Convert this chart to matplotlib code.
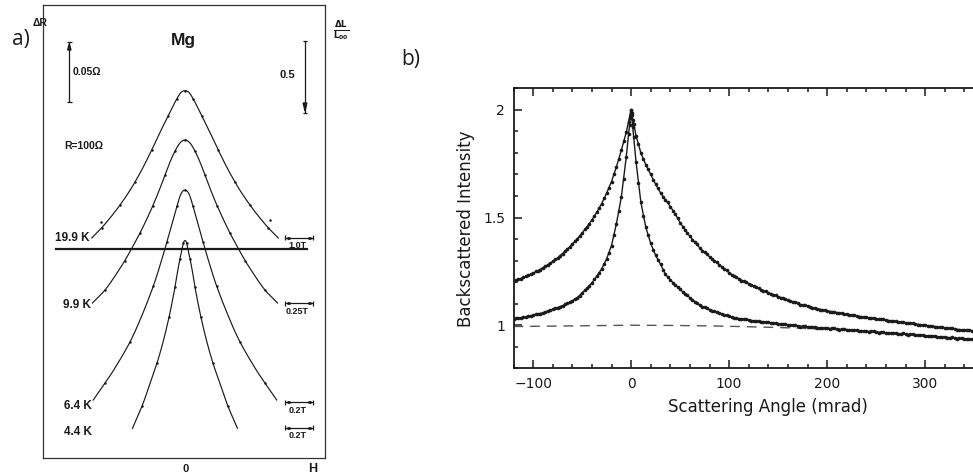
import numpy as np
import matplotlib.pyplot as plt
from matplotlib.lines import Line2D
from matplotlib.ticker import MultipleLocator, FuncFormatter

# ---------------------------------------------------------------------------
# Panel a) : Mg magnetoresistance peaks (arbitrary units)
# h = normalised field, v = signal in chart units
# ---------------------------------------------------------------------------
mg_labels = ["19.9 K", "9.9 K", "6.4 K", "4.4 K"]
field_scales = ["1.0T", "0.25T", "0.2T", "0.2T"]

h_199 = [-0.666, -0.593, -0.524, -0.464, -0.405, -0.357, -0.298, -0.236, -0.179, -0.119,
         -0.089, -0.059, -0.029, 0.0, 0.029, 0.059, 0.089, 0.119, 0.179, 0.236,
         0.298, 0.357, 0.405, 0.464, 0.524, 0.593, 0.666]
v_199 = [4.853, 5.085, 5.339, 5.582, 5.847, 6.090, 6.421, 6.808, 7.184, 7.559,
         7.747, 7.924, 8.067, 8.107, 8.067, 7.924, 7.747, 7.559, 7.184, 6.808,
         6.421, 6.090, 5.847, 5.582, 5.339, 5.085, 4.853]
h_199_extra = [-0.598, 0.607]
v_199_extra = [5.21, 5.24]

h_99 = [-0.661, -0.571, -0.5, -0.429, -0.371, -0.321, -0.271, -0.229, -0.186, -0.143,
        -0.107, -0.071, -0.036, 0.0, 0.036, 0.071, 0.107, 0.143, 0.186, 0.229,
        0.271, 0.321, 0.371, 0.429, 0.5, 0.571, 0.661]
v_99 = [3.418, 3.705, 4.014, 4.356, 4.677, 4.964, 5.284, 5.571, 5.892, 6.245,
        6.532, 6.775, 6.951, 7.018, 6.951, 6.775, 6.532, 6.245, 5.892, 5.571,
        5.284, 4.964, 4.677, 4.356, 4.014, 3.705, 3.418]

h_64 = [-0.655, -0.571, -0.5, -0.393, -0.309, -0.226, -0.171, -0.129, -0.086, -0.057,
        -0.029, 0.0, 0.029, 0.057, 0.086, 0.129, 0.171, 0.226, 0.309, 0.393,
        0.5, 0.571, 0.655]
v_64 = [1.275, 1.650, 1.982, 2.556, 3.131, 3.793, 4.323, 4.765, 5.240, 5.560,
        5.825, 5.913, 5.825, 5.560, 5.240, 4.765, 4.323, 3.793, 3.131, 2.556,
        1.982, 1.650, 1.275]

h_44 = [-0.375, -0.307, -0.244, -0.2, -0.155, -0.114, -0.089, -0.071, -0.054, -0.036,
        -0.021, -0.011, 0.0, 0.011, 0.021, 0.036, 0.054, 0.071, 0.089, 0.114,
        0.155, 0.2, 0.244, 0.307, 0.375]
v_44 = [0.649, 1.137, 1.690, 2.087, 2.573, 3.103, 3.479, 3.777, 4.097, 4.395,
        4.605, 4.749, 4.798, 4.749, 4.605, 4.395, 4.097, 3.777, 3.479, 3.103,
        2.573, 2.087, 1.690, 1.137, 0.649]

baseline_level = 4.60

# ---------------------------------------------------------------------------
# Panel b) : coherent backscattering cones
# ---------------------------------------------------------------------------
fit_angle = np.arange(-120, 351, 5)
broad_fit = [1.205, 1.213, 1.222, 1.232, 1.242, 1.254, 1.267, 1.281, 1.296, 1.313,
             1.333, 1.354, 1.377, 1.401, 1.428, 1.457, 1.489, 1.525, 1.565, 1.613,
             1.667, 1.735, 1.812, 1.895, 2.000, 1.880, 1.800, 1.745, 1.700, 1.655,
             1.615, 1.583, 1.551, 1.517, 1.476, 1.443, 1.413, 1.385, 1.360, 1.338,
             1.318, 1.300, 1.281, 1.262, 1.244, 1.229, 1.216, 1.204, 1.193, 1.182,
             1.171, 1.161, 1.151, 1.142, 1.133, 1.125, 1.117, 1.109, 1.101, 1.094,
             1.088, 1.082, 1.077, 1.072, 1.067, 1.063, 1.059, 1.055, 1.051, 1.047,
             1.043, 1.040, 1.036, 1.033, 1.030, 1.027, 1.024, 1.021, 1.018, 1.015,
             1.012, 1.009, 1.006, 1.003, 1.000, 0.997, 0.994, 0.991, 0.988, 0.985,
             0.982, 0.980, 0.978, 0.976, 0.974]
narrow_fit = [1.030, 1.033, 1.037, 1.041, 1.046, 1.052, 1.058, 1.066, 1.074, 1.082,
              1.091, 1.102, 1.114, 1.128, 1.150, 1.172, 1.197, 1.227, 1.262, 1.308,
              1.370, 1.471, 1.594, 1.779, 2.000, 1.760, 1.570, 1.455, 1.380, 1.325,
              1.283, 1.237, 1.210, 1.188, 1.166, 1.146, 1.128, 1.110, 1.093, 1.083,
              1.073, 1.065, 1.057, 1.049, 1.041, 1.035, 1.031, 1.027, 1.024, 1.021,
              1.018, 1.016, 1.013, 1.010, 1.007, 1.004, 1.002, 0.999, 0.997, 0.995,
              0.993, 0.991, 0.989, 0.988, 0.986, 0.985, 0.983, 0.981, 0.980, 0.978,
              0.976, 0.974, 0.972, 0.971, 0.969, 0.967, 0.966, 0.964, 0.962, 0.961,
              0.959, 0.957, 0.955, 0.954, 0.952, 0.950, 0.948, 0.946, 0.944, 0.943,
              0.941, 0.939, 0.937, 0.935, 0.934]

meas_angle = np.arange(-117.5, 350, 5)
broad_meas = [1.212, 1.214, 1.229, 1.236, 1.250, 1.258, 1.276, 1.287, 1.306, 1.321,
              1.345, 1.362, 1.391, 1.412, 1.445, 1.470, 1.509, 1.542, 1.590, 1.638,
              1.703, 1.770, 1.856, 1.945, 1.935, 1.842, 1.770, 1.726, 1.674, 1.637,
              1.597, 1.570, 1.531, 1.498, 1.458, 1.430, 1.397, 1.375, 1.346, 1.331,
              1.307, 1.293, 1.270, 1.256, 1.233, 1.223, 1.207, 1.200, 1.186, 1.178,
              1.164, 1.158, 1.145, 1.140, 1.126, 1.123, 1.111, 1.107, 1.095, 1.093,
              1.083, 1.081, 1.072, 1.071, 1.063, 1.062, 1.055, 1.054, 1.047, 1.046,
              1.040, 1.039, 1.033, 1.033, 1.027, 1.027, 1.021, 1.021, 1.015, 1.015,
              1.009, 1.009, 1.003, 1.003, 0.997, 0.997, 0.991, 0.991, 0.985, 0.985,
              0.980, 0.979, 0.976, 0.975]
narrow_meas = [1.033, 1.034, 1.040, 1.043, 1.050, 1.054, 1.063, 1.069, 1.079, 1.085,
               1.098, 1.106, 1.122, 1.137, 1.162, 1.183, 1.213, 1.243, 1.286, 1.336,
               1.418, 1.530, 1.680, 1.890, 1.875, 1.660, 1.508, 1.418, 1.350, 1.305,
               1.258, 1.226, 1.197, 1.179, 1.154, 1.139, 1.117, 1.103, 1.086, 1.080,
               1.067, 1.063, 1.051, 1.047, 1.036, 1.035, 1.027, 1.027, 1.021, 1.021,
               1.015, 1.016, 1.010, 1.010, 1.004, 1.005, 0.999, 1.000, 0.994, 0.996,
               0.990, 0.992, 0.987, 0.989, 0.984, 0.986, 0.980, 0.983, 0.977, 0.979,
               0.973, 0.975, 0.970, 0.972, 0.966, 0.969, 0.963, 0.965, 0.960, 0.962,
               0.956, 0.958, 0.953, 0.955, 0.949, 0.951, 0.945, 0.947, 0.942, 0.944,
               0.938, 0.940, 0.935, 0.936]

peak_angle = [-1.5, -0.5, 0.5, 1.5]
broad_peak = [1.96, 1.99, 1.985, 1.955]
narrow_peak = [1.93, 1.98, 1.975, 1.92]

background_angle = [-120, -80, -40, 0, 40, 80, 120, 160, 200]
background_level = [0.994, 0.996, 0.998, 1.000, 0.999, 0.997, 0.993, 0.988, 0.981]

# ---------------------------------------------------------------------------
W, H = 973, 474
fig = plt.figure(figsize=(W / 100, H / 100), dpi=100)
INK = "#1a1a1a"
BOLD = dict(family="Liberation Sans", weight="bold", color=INK)


def fpos(x, y):
    """pixel position (from top-left) -> figure fraction"""
    return x / W, 1 - y / H


def fig_line(xs, ys, lw=0.9, color=INK):
    fig.add_artist(Line2D([x / W for x in xs], [1 - y / H for y in ys],
                          transform=fig.transFigure, lw=lw, color=color,
                          solid_capstyle="butt"))


def catmull_rom(xs, ys, steps=10):
    """smooth drawing path passing through every given point"""
    p = np.column_stack([xs, ys]).astype(float)
    p = np.vstack([2 * p[0] - p[1], p, 2 * p[-1] - p[-2]])
    t = np.linspace(0, 1, steps, endpoint=False)[:, None]
    out = []
    for i in range(1, len(p) - 2):
        p0, p1, p2, p3 = p[i - 1], p[i], p[i + 1], p[i + 2]
        seg = 0.5 * ((2 * p1) + (-p0 + p2) * t + (2 * p0 - 5 * p1 + 4 * p2 - p3) * t ** 2
                     + (-p0 + 3 * p1 - 3 * p2 + p3) * t ** 3)
        out.append(seg)
    out.append(p[-2][None, :])
    out = np.vstack(out)
    return out[:, 0], out[:, 1]


# ----- panel a -----
axa = fig.add_axes([43.3 / W, 1 - 457.7 / H, 281.7 / W, 452.7 / H])
axa.set_xlim(-1.012, 1.0)
axa.set_ylim(0, 10)
axa.set_xticks([])
axa.set_yticks([])
for sp in axa.spines.values():
    sp.set_linewidth(0.9)
    sp.set_color("#333333")

for hh, vv in [(h_199, v_199), (h_99, v_99), (h_64, v_64), (h_44, v_44)]:
    sx, sy = catmull_rom(hh, vv)
    axa.plot(sx, sy, color=INK, lw=0.85)
    axa.plot(hh[1:-1:2], vv[1:-1:2], "o", color=INK, ms=1.8, mew=0)
axa.plot(h_199_extra, v_199_extra, "o", color=INK, ms=1.8, mew=0)
axa.plot([-0.92, 0.87], [baseline_level, baseline_level], color=INK, lw=1.6)

# temperature labels
for lab, (x, y) in zip(mg_labels, [(55, 238), (63, 305), (64, 406), (64, 432)]):
    fig.text(*fpos(x, y), lab, fontsize=8.5, ha="left", va="center", **BOLD)

# field scale bars
for lab, yb in zip(field_scales, [237.5, 303.3, 402.3, 427.7]):
    x0, x1 = 285, 313
    fig_line([x0, x1], [yb, yb], lw=0.9)
    fig_line([x0, x0], [yb - 2.5, yb + 2.5], lw=0.9)
    fig_line([x1, x1], [yb - 2.5, yb + 2.5], lw=0.9)
    fig_line([x0 + 2, x0 + 5], [yb, yb], lw=2.0)
    fig_line([x1 - 5, x1 - 2], [yb, yb], lw=2.0)
    fig.text(*fpos(297.5, yb + 8), lab, fontsize=6.5, ha="center", va="center", **BOLD)

# resistance scale bar (arrow up)
fig_line([69.3, 69.3], [42, 101.7], lw=0.9)
fig_line([67, 71.6], [101.7, 101.7], lw=0.9)
fig_line([67, 71.6], [42, 42], lw=0.9)
fig.add_artist(plt.Polygon([fpos(67.6, 50), fpos(71.0, 50), fpos(69.3, 44)],
                           closed=True, color=INK, transform=fig.transFigure))
fig.text(*fpos(73, 72), "0.05Ω", fontsize=7.5, ha="left", va="center", **BOLD)

# length scale bar (arrow down)
fig_line([305, 305], [40.7, 113], lw=0.9)
fig_line([302.7, 307.3], [40.7, 40.7], lw=0.9)
fig_line([302.7, 307.3], [113, 113], lw=0.9)
fig.add_artist(plt.Polygon([fpos(303.2, 103), fpos(306.8, 103), fpos(305, 111)],
                           closed=True, color=INK, transform=fig.transFigure))
fig.text(*fpos(279, 75), "0.5", fontsize=8, ha="left", va="center", **BOLD)

fig.text(*fpos(183, 40), "Mg", fontsize=12.5, ha="center", va="center", **BOLD)
fig.text(*fpos(64, 146), "R=100Ω", fontsize=7.5, ha="left", va="center", **BOLD)
fig.text(*fpos(33, 23), "ΔR", fontsize=7.5, ha="left", va="center", **BOLD)
fig.text(*fpos(341, 31), r"$\mathbf{\frac{\Delta L}{L_{00}}}$", fontsize=9,
         ha="center", va="center", color=INK)
fig.text(*fpos(186, 469), "0", fontsize=8, ha="center", va="center", **BOLD)
fig.text(*fpos(313, 469), "H", fontsize=9, ha="center", va="center", **BOLD)

fig.text(*fpos(12, 40), "a)", fontsize=15, family="Open Sans", ha="left",
         va="center", color=INK)
fig.text(*fpos(401, 60), "b)", fontsize=15, family="Open Sans", ha="left",
         va="center", color=INK)

# ----- panel b -----
x_lo, x_hi = -120, 400
axb = fig.add_axes([513.5 / W, 1 - 368.3 / H, (x_hi - x_lo) * 0.98 / W, 280 / H])
axb.set_xlim(x_lo, x_hi)
axb.set_ylim(0.8, 2.1)

axb.plot(background_angle, background_level, color="#555555", lw=1.0,
         dashes=(7, 5))
axb.plot(fit_angle, broad_fit, color=INK, lw=1.0)
axb.plot(fit_angle, narrow_fit, color=INK, lw=1.0)
for ang, vals in [(meas_angle, broad_meas), (meas_angle, narrow_meas),
                  (peak_angle, broad_peak), (peak_angle, narrow_peak),
                  (fit_angle, broad_fit), (fit_angle, narrow_fit)]:
    axb.plot(ang, vals, "o", color=INK, ms=2.6, mew=0)

axb.xaxis.set_major_locator(MultipleLocator(100))
axb.xaxis.set_minor_locator(MultipleLocator(20))
axb.xaxis.set_major_formatter(FuncFormatter(
    lambda v, p: "" if v > 350 else f"{v:g}".replace("-", "\u2212")))
axb.yaxis.set_major_locator(MultipleLocator(0.5))
axb.yaxis.set_minor_locator(MultipleLocator(0.1))
axb.yaxis.set_major_formatter(FuncFormatter(lambda v, p: f"{v:g}"))
axb.tick_params(which="both", direction="in", top=True, right=True,
                width=1.1, color=INK, labelsize=10, labelcolor=INK)
axb.tick_params(which="major", length=6, pad=6)
axb.tick_params(which="minor", length=3)
for sp in axb.spines.values():
    sp.set_linewidth(1.3)
    sp.set_color(INK)
for t in axb.get_xticklabels() + axb.get_yticklabels():
    t.set_family("DejaVu Sans")

axb.set_xlabel("Scattering Angle (mrad)", fontsize=12, color=INK, labelpad=5)
axb.set_ylabel("Backscattered Intensity", fontsize=12, color=INK, labelpad=6)

fig.savefig("out.png", dpi=100)
